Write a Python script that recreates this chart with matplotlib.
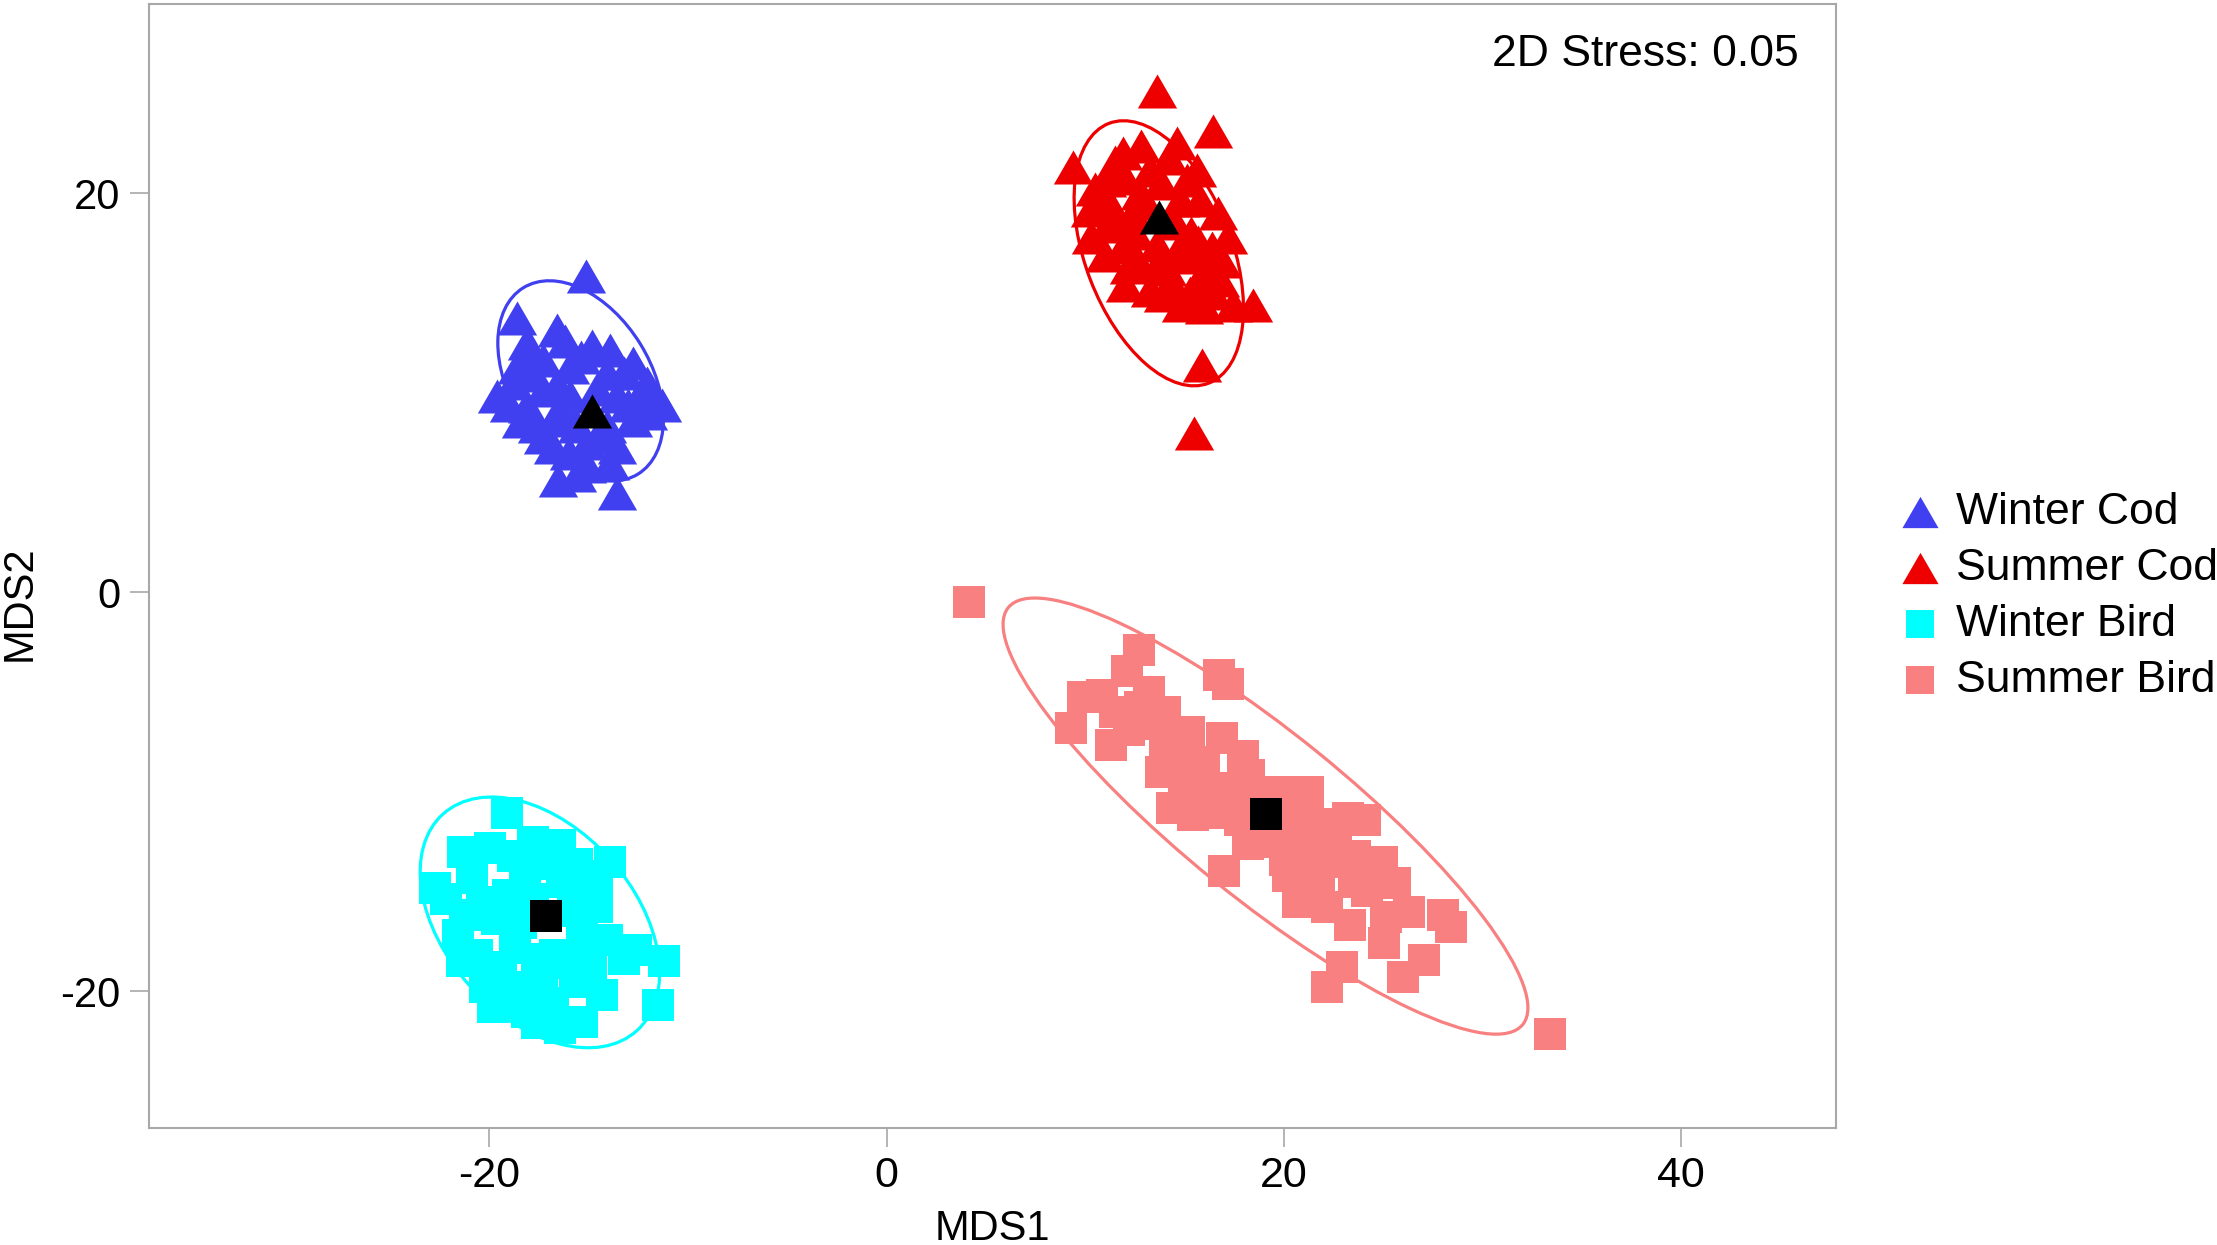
import matplotlib
matplotlib.use("Agg")
import matplotlib.pyplot as plt
from matplotlib.patches import Ellipse
from matplotlib.path import Path
import numpy as np

plt.rcParams['font.family'] = ['Liberation Sans', 'DejaVu Sans']
plt.rcParams['axes.unicode_minus'] = False

# ---------------- data ----------------
groups = ["Winter Cod", "Summer Cod", "Winter Bird", "Summer Bird"]
colors = ["#4040F0", "#EE0000", "#00FFFF", "#F88080"]

wc_x = [-15.13, -18.62, -16.60, -18.11, -14.84, -13.92, -12.75, -18.62, -19.59, -17.28,
        -15.93, -14.09, -12.07, -11.32, -12.58, -17.28, -15.93, -13.58, -18.11, -16.77,
        -15.60, -14.09, -12.75, -16.77, -15.09, -13.58, -16.52, -15.09, -13.55, -18.79,
        -17.61, -17.90, -16.20, -15.40, -13.20, -14.60, -16.60, -17.80, -19.00, -16.20,
        -13.00, -12.00, -14.60, -16.00, -13.90, -17.30, -15.60, -18.40, -12.20]
wc_y = [15.84, 13.75, 13.16, 12.50, 12.33, 12.16, 11.49, 11.32, 9.82, 11.66,
        11.32, 10.99, 10.49, 9.40, 9.65, 10.16, 9.82, 9.82, 9.32, 8.65,
        8.32, 8.32, 8.65, 7.31, 7.48, 7.31, 5.64, 6.31, 4.97, 10.49,
        8.32, 12.00, 12.60, 11.80, 11.00, 10.20, 10.40, 10.90, 9.40, 9.00,
        9.40, 9.00, 7.80, 7.00, 6.50, 7.80, 5.90, 8.60, 10.20]

sc_x = [13.59, 16.44, 9.40, 17.45, 18.45, 15.86, 15.47, 11.91, 14.60, 13.25,
        15.10, 15.77, 11.08, 10.24, 10.99, 11.91, 12.41, 11.58, 15.69, 16.36,
        13.59, 14.43, 13.25, 15.27, 16.44, 16.11, 12.75, 14.77, 11.08, 14.77,
        12.59, 16.78, 10.50, 12.00, 13.80, 14.20, 12.80, 11.20, 12.50, 13.00,
        14.50, 15.30, 13.60, 12.20, 14.10, 15.00, 16.90, 17.20, 15.80, 13.90,
        14.80, 16.00, 10.30, 11.50, 15.60, 12.00, 16.70]
sc_y = [25.15, 23.14, 21.35, 14.42, 14.42, 11.41, 8.01, 22.03, 22.53, 21.18,
        20.69, 19.68, 20.69, 19.18, 16.93, 17.34, 19.02, 18.68, 17.59, 17.26,
        16.34, 15.34, 15.17, 15.00, 15.00, 16.34, 20.02, 19.68, 18.35, 17.34,
        16.67, 15.67, 20.20, 20.80, 20.50, 21.80, 22.40, 19.50, 18.00, 19.50,
        18.50, 18.00, 17.40, 16.30, 16.20, 16.80, 16.60, 17.80, 15.60, 14.90,
        14.40, 14.30, 17.80, 21.60, 21.20, 15.40, 19.00]

wb_x = [-19.12, -21.30, -22.73, -13.92, -16.44, -17.78, -19.96, -12.63, -11.20, -11.49,
        -16.44, -18.11, -20.21, -21.55, -21.38, -14.34, -15.35, -15.01, -19.04, -20.38,
        -20.88, -18.20, -16.35, -15.35, -16.69, -18.70, -21.20, -17.36, -18.70, -15.68,
        -14.09, -18.80, -17.20, -15.60, -14.60, -14.60, -15.80, -17.80, -19.60, -20.60,
        -18.40, -16.20, -17.60, -19.40, -20.60, -16.80, -18.60, -14.90, -13.20, -22.20,
        -19.80, -17.60]
wb_y = [-11.07, -13.00, -14.84, -13.50, -12.66, -12.50, -12.83, -17.93, -18.51, -20.69,
        -21.86, -21.02, -19.77, -17.18, -18.51, -20.18, -21.52, -15.17, -15.17, -15.51,
        -14.33, -14.17, -14.50, -17.18, -18.18, -17.84, -16.20, -19.52, -19.77, -19.52,
        -17.43, -13.20, -13.60, -13.60, -14.20, -15.80, -16.00, -15.40, -16.40, -16.20,
        -16.60, -18.60, -18.40, -18.80, -18.20, -20.60, -20.60, -18.60, -18.40, -15.40,
        -20.80, -21.60]

sb_x = [4.17, 33.40, 12.68, 12.11, 16.71, 17.20, 9.89, 10.84, 9.30, 11.27,
        12.75, 14.02, 14.02, 14.97, 16.88, 17.94, 14.97, 14.34, 15.40, 16.88,
        18.25, 18.79, 21.22, 19.21, 20.06, 23.23, 24.08, 22.60, 24.93, 21.75,
        20.69, 22.17, 23.34, 25.14, 26.31, 28.00, 28.42, 25.03, 27.05, 25.99,
        22.91, 22.17, 16.99, 13.00, 15.80, 17.50, 19.80, 20.50, 21.50, 22.00,
        23.50, 21.00, 11.50, 13.20, 12.20, 15.20, 16.00, 13.80, 15.00, 16.20,
        17.80, 18.20, 19.80, 20.20, 21.80, 23.60, 24.20, 25.60]
sb_y = [-0.51, -22.14, -2.88, -3.92, -4.14, -4.59, -5.23, -5.14, -6.81, -7.65,
        -5.73, -5.98, -7.40, -8.23, -7.31, -8.23, -9.40, -10.82, -11.16, -11.07,
        -9.15, -10.24, -9.99, -12.50, -13.42, -11.32, -11.41, -12.58, -13.50, -14.42,
        -15.51, -15.76, -16.67, -16.26, -16.01, -16.17, -16.76, -17.59, -18.43, -19.27,
        -18.77, -19.77, -13.95, -6.60, -9.80, -9.80, -11.50, -12.00, -12.80, -13.50,
        -14.50, -11.00, -6.00, -5.00, -6.90, -7.00, -8.50, -9.00, -10.20, -10.00,
        -11.40, -12.60, -10.00, -14.20, -11.60, -13.20, -15.00, -14.60]

centroid_x = [-14.84, 13.71, -17.16, 19.12]
centroid_y = [9.10, 18.81, -16.21, -11.12]

# ellipse parameters: centre x, centre y, semi-major, semi-minor, angle (deg)
ell_cx = [-15.4, 13.7, -17.45, 19.07]
ell_cy = [10.6, 17.0, -16.55, -11.22]
ell_a = [5.49, 6.98, 7.30, 16.64]
ell_b = [3.53, 3.69, 4.75, 4.14]
ell_ang = [-58.2, -68.9, -48.0, -38.9]

stress_text = "2D Stress: 0.05"
x_ticks = [-20, 0, 20, 40]
y_ticks = [-20, 0, 20]

# ---------------- plot ----------------
tri = Path([(0, 0.433), (-0.5, -0.433), (0.5, -0.433), (0, 0.433)],
           [Path.MOVETO, Path.LINETO, Path.LINETO, Path.CLOSEPOLY])
markers = [tri, tri, "s", "s"]
sizes = [800, 800, 510, 510]

fig = plt.figure(figsize=(22.17, 12.45), dpi=100)
ax = fig.add_axes([148.5 / 2217, 1 - 1128 / 1245, 1687 / 2217, 1124 / 1245])

series = [(wc_x, wc_y), (sc_x, sc_y), (wb_x, wb_y), (sb_x, sb_y)]
for i, (xs, ys) in enumerate(series):
    ax.scatter(xs, ys, marker=markers[i], s=sizes[i], c=colors[i],
               linewidths=0, label=groups[i], zorder=2)
    e = Ellipse((ell_cx[i], ell_cy[i]), 2 * ell_a[i], 2 * ell_b[i],
                angle=ell_ang[i], fill=False, edgecolor=colors[i],
                linewidth=2.3, zorder=3)
    ax.add_patch(e)
    ax.scatter([centroid_x[i]], [centroid_y[i]], marker=markers[i], s=sizes[i],
               c="black", linewidths=0, zorder=4)

ax.set_xlim(-37.15, 47.76)
ax.set_ylim(-26.86, 29.5)
ax.set_xticks(x_ticks)
ax.set_yticks(y_ticks)
ax.tick_params(axis="both", length=14, width=1.2, color="#a8a8a8",
               labelsize=30, pad=6)
ax.tick_params(axis="x", labelsize=31)
for sp in ax.spines.values():
    sp.set_color("#a8a8a8")
    sp.set_linewidth(1.5)

ax.set_xlabel("MDS1", fontsize=30)
ax.set_ylabel("MDS2", fontsize=30)
ax.xaxis.set_label_coords(0.5, -0.072)
ax.yaxis.set_label_coords(-0.0643, 0.467)

ax.text(0.978, 0.955, stress_text, transform=ax.transAxes, ha="right",
        va="center", fontsize=32)

leg = ax.legend(loc="center left", bbox_to_anchor=(0.858, 0.521),
                bbox_transform=fig.transFigure, frameon=False, fontsize=32,
                markerscale=0.92, handlelength=0.8, handletextpad=0.42,
                labelspacing=0.34, borderpad=0, borderaxespad=0, scatterpoints=1)

fig.savefig("out.png", dpi=100)
